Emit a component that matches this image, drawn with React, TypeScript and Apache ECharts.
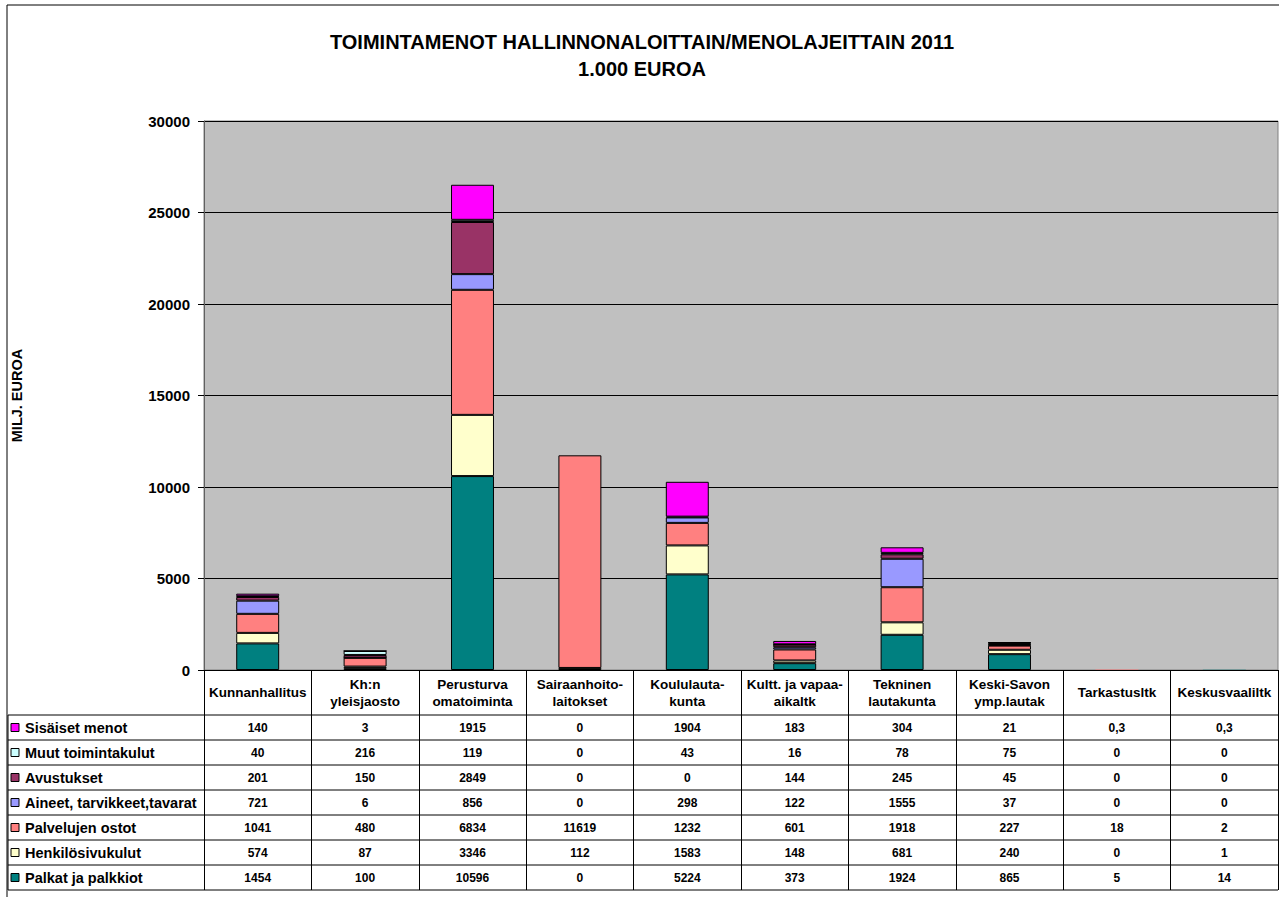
import React, { useEffect, useRef } from "react";
import * as echarts from "echarts";

const FONT = "Arial, 'Liberation Sans', Helvetica, sans-serif";

const categories = [
  "Kunnanhallitus",
  "Kh:n\nyleisjaosto",
  "Perusturva\nomatoiminta",
  "Sairaanhoito-\nlaitokset",
  "Koululauta-\nkunta",
  "Kultt. ja vapaa-\naikaltk",
  "Tekninen\nlautakunta",
  "Keski-Savon\nymp.lautak",
  "Tarkastusltk",
  "Keskusvaaliltk",
];

const palkat = [1454, 100, 10596, 0, 5224, 373, 1924, 865, 5, 14];
const henkilosivukulut = [574, 87, 3346, 112, 1583, 148, 681, 240, 0, 1];
const palvelujenOstot = [1041, 480, 6834, 11619, 1232, 601, 1918, 227, 18, 2];
const aineet = [721, 6, 856, 0, 298, 122, 1555, 37, 0, 0];
const avustukset = [201, 150, 2849, 0, 0, 144, 245, 45, 0, 0];
const muutToimintakulut = [40, 216, 119, 0, 43, 16, 78, 75, 0, 0];
const sisaisetMenot = [140, 3, 1915, 0, 1904, 183, 304, 21, 0.3, 0.3];

const yMin = 0;
const yMax = 30000;
const yInterval = 5000;

// stack order bottom -> top
const seriesDefs = [
  { name: "Palkat ja palkkiot", data: palkat, color: "#008080" },
  { name: "Henkilösivukulut", data: henkilosivukulut, color: "#FFFFCC" },
  { name: "Palvelujen ostot", data: palvelujenOstot, color: "#FF8080" },
  { name: "Aineet, tarvikkeet,tavarat", data: aineet, color: "#9999FF" },
  { name: "Avustukset", data: avustukset, color: "#993366" },
  { name: "Muut toimintakulut", data: muutToimintakulut, color: "#CCFFFF" },
  { name: "Sisäiset menot", data: sisaisetMenot, color: "#FF00FF" },
];

const fmt = (v: number) => String(v).replace(".", ",");

export default function App() {
  const ref = useRef<HTMLDivElement>(null);
  useEffect(() => {
    const chart = echarts.init(ref.current!, null, { renderer: "svg" });
    const W = 1279;
    const GRID_L = 204;
    const GRID_R = 1278;
    const GRID_T = 121;
    const GRID_B = 670;
    const HEADER_B = 715;
    const ROW_H = 25;
    const TABLE_L = 8;
    const rows = seriesDefs.slice().reverse();
    const TABLE_B = HEADER_B + ROW_H * rows.length;

    const totals = categories.map((_, i) =>
      seriesDefs.reduce((acc, s) => acc + s.data[i], 0)
    );

    const tableText = {
      fontFamily: FONT,
      fontWeight: "bold" as const,
      color: "#000",
    };

    const xAxes: any[] = [
      {
        type: "category",
        data: categories,
        gridIndex: 0,
        position: "bottom",
        axisLine: { show: true, lineStyle: { color: "#000", width: 1 } },
        axisTick: {
          show: true,
          interval: 0,
          length: TABLE_B - GRID_B,
          lineStyle: { color: "#000", width: 1 },
        },
        splitLine: { show: false },
        axisLabel: {
          ...tableText,
          interval: 0,
          margin: (HEADER_B - GRID_B) / 2,
          verticalAlign: "middle",
          lineHeight: 17,
          fontSize: 13.5,
        },
      },
      ...rows.map((s, r) => ({
        type: "category",
        data: categories,
        gridIndex: 0,
        position: "bottom",
        offset: HEADER_B - GRID_B + ROW_H * r + ROW_H / 2,
        axisLine: { show: false },
        axisTick: { show: false },
        splitLine: { show: false },
        axisLabel: {
          ...tableText,
          interval: 0,
          margin: 0,
          verticalAlign: "middle",
          fontSize: 12,
          formatter: (_v: string, i: number) => fmt(s.data[i]),
        },
      })),
    ];

    const graphics: any[] = [
      {
        type: "rect",
        shape: { x: 7, y: 5, width: W, height: 1000 },
        style: { fill: "none", stroke: "#000", lineWidth: 1 },
        silent: true,
      },
      {
        type: "text",
        x: 642,
        y: 42,
        style: {
          text: "TOIMINTAMENOT HALLINNONALOITTAIN/MENOLAJEITTAIN 2011",
          fontFamily: FONT,
          fontWeight: "bold",
          fontSize: 20,
          fill: "#000",
          textAlign: "center",
          textVerticalAlign: "middle",
        },
      },
      {
        type: "text",
        x: 642,
        y: 69,
        style: {
          text: "1.000 EUROA",
          fontFamily: FONT,
          fontWeight: "bold",
          fontSize: 20,
          fill: "#000",
          textAlign: "center",
          textVerticalAlign: "middle",
        },
      },
      {
        type: "line",
        shape: { x1: TABLE_L, y1: HEADER_B, x2: TABLE_L, y2: TABLE_B },
        style: { stroke: "#000", lineWidth: 1 },
      },
    ];
    for (let k = 0; k <= rows.length; k++) {
      const y = HEADER_B + ROW_H * k;
      graphics.push({
        type: "line",
        shape: { x1: TABLE_L, y1: y, x2: GRID_R, y2: y },
        style: { stroke: "#000", lineWidth: 1 },
      });
    }
    rows.forEach((s, r) => {
      const cy = HEADER_B + ROW_H * r + ROW_H / 2;
      graphics.push({
        type: "rect",
        shape: { x: 11, y: cy - 4, width: 8, height: 8 },
        style: { fill: s.color, stroke: "#000", lineWidth: 1 },
      });
      graphics.push({
        type: "text",
        x: 25,
        y: cy,
        style: {
          text: s.name,
          fontFamily: FONT,
          fontWeight: "bold",
          fontSize: 14.5,
          fill: "#000",
          textAlign: "left",
          textVerticalAlign: "middle",
        },
      });
    });

    chart.setOption({
      animation: false,
      backgroundColor: "#fff",
      grid: {
        left: GRID_L,
        right: W - GRID_R,
        top: GRID_T,
        bottom: 897 - GRID_B,
        show: true,
        backgroundColor: "#C0C0C0",
        borderColor: "#808080",
        borderWidth: 1,
      },
      xAxis: xAxes,
      yAxis: {
        type: "value",
        min: yMin,
        max: yMax,
        interval: yInterval,
        name: "MILJ. EUROA",
        nameLocation: "middle",
        nameGap: GRID_L - 24,
        nameRotate: 90,
        nameTextStyle: {
          fontFamily: FONT,
          fontWeight: "bold",
          fontSize: 14.5,
          color: "#000",
        },
        axisLine: { show: true, lineStyle: { color: "#606060", width: 1 } },
        axisTick: { show: true, length: 6, lineStyle: { color: "#000" } },
        splitLine: { show: true, lineStyle: { color: "#000", width: 1 } },
        axisLabel: {
          fontFamily: FONT,
          fontWeight: "bold",
          fontSize: 15,
          color: "#000",
          margin: 14,
          formatter: (v: number) => String(v),
        },
      },
      series: seriesDefs.map((s) => ({
        name: s.name,
        type: "bar",
        stack: "total",
        xAxisIndex: 0,
        barWidth: "40%",
        data: s.data.map((v, i) =>
          v === 0
            ? null
            : {
                value: v,
                itemStyle: { borderWidth: totals[i] < 100 ? 0 : 1 },
              }
        ),
        itemStyle: { color: s.color, borderColor: "#000", borderWidth: 1 },
        emphasis: { disabled: true },
      })),
      graphic: graphics,
    });
    return () => chart.dispose();
  }, []);
  return (
    <div
      ref={ref}
      style={{ position: "fixed", left: 0, top: 0, width: 1279, height: 897, background: "#fff" }}
    />
  );
}
